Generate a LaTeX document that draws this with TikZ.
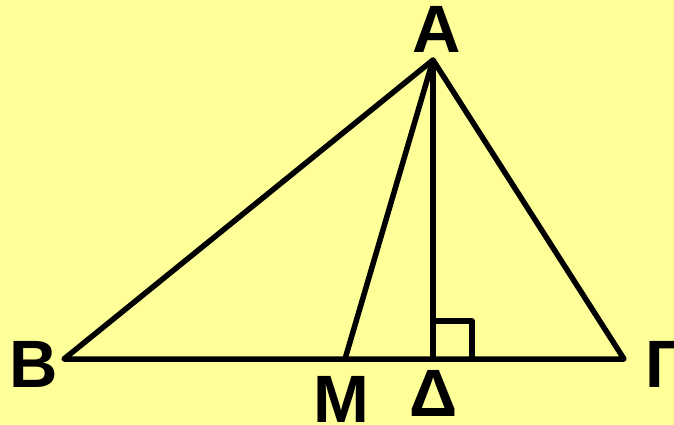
\documentclass[tikz,border=0pt]{standalone}
\usepackage{fontspec}
\setmainfont{Liberation Sans}
\usepackage{tikz}
\usetikzlibrary{positioning}
\definecolor{bgyellow}{HTML}{FFFF99}

\begin{document}
\begin{tikzpicture}[x=1pt,y=-1pt,line width=5.5pt,line join=round,
	lbl/.style={inner sep=0pt,font=\fontsize{67}{67}\selectfont\bfseries}]
		
		\fill[bgyellow] (0,0) rectangle (674,425);
		\useasboundingbox (0,0) rectangle (674,425);
		
		% Vertices
		\coordinate (A) at (433,60);
		\coordinate (B) at (64,359);
		\coordinate (G) at (624,359);
		\coordinate (M) at (345,359);
		\coordinate (D) at (433,359);
		
		% Triangle, median and altitude
		\draw (B) -- (A) -- (G) -- cycle;
		\draw (A) -- (M);
		\draw (A) -- (D);
		
		% Right angle
		\draw (D) ++(0,-38) coordinate (d1) -- ++(39,0) coordinate (d2) -- (d2 |- D);
		
		% Labels
		\node[lbl] (lA) at (437,29) {Α};
		\node[lbl] (lB) at (34,364) {Β};
		\node[lbl] (lM) at (341,399) {Μ};
		\node[lbl] (lD) at (434,393) {Δ};
		\node[lbl] (lG) at (666,364) {Γ};
		
	\end{tikzpicture}
\end{document}
